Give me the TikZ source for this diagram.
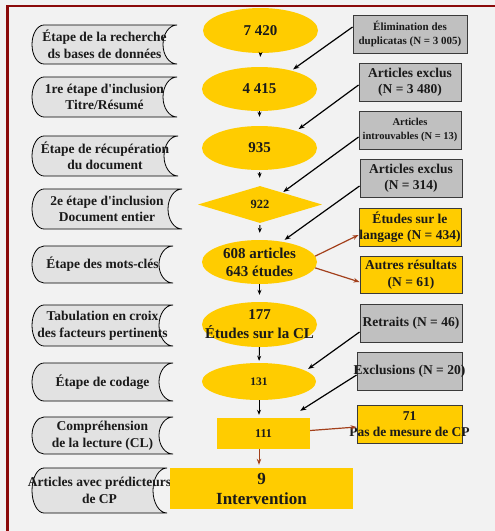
\documentclass[tikz,border=0pt]{standalone}
\usepackage{fontspec}
\setmainfont{Liberation Serif}
\usetikzlibrary{shapes.geometric,arrows.meta,calc}
\definecolor{bg}{HTML}{F2F2F2}
\definecolor{framered}{HTML}{8B0A0A}
\definecolor{gold}{HTML}{FFCC00}
\definecolor{boxgray}{HTML}{C0C0C0}
\definecolor{boxline}{HTML}{3A3A3A}
\definecolor{tapegray}{HTML}{E2E2E2}
\definecolor{rust}{HTML}{A3401C}
\definecolor{ink}{HTML}{1A1A1A}
\newcommand{\tapeshape}[6]{% name, x0, yc, x1, half height, text
  \draw[tapestyle] (#2+12,#3-#5) -- (#4,#3-#5)
    arc[start angle=90,end angle=270,x radius=14pt,y radius=#5pt]
    -- (#2+12,#3+#5)
    arc[start angle=270,end angle=90,x radius=12pt,y radius=#5pt] -- cycle;
  \node[lefttext] (#1) at ({(#2+#4)/2},#3) {#6};
}
\begin{document}
\begin{tikzpicture}[x=1pt,y=-1pt,
  tapestyle/.style={draw=black, line width=0.8pt, fill=tapegray},
  lefttext/.style={font=\bfseries\fontsize{13.5}{16.5}\selectfont, align=center, text=ink, inner sep=0pt},
  midtext/.style={font=\bfseries\fontsize{15}{18}\selectfont, align=center, text=ink, inner sep=0pt},
  ell/.style={ellipse, fill=gold, minimum width=115pt, minimum height=44pt, inner sep=0pt},
  yrect/.style={rectangle, fill=gold, inner sep=0pt},
  gbox/.style={rectangle, fill=boxgray, draw=boxline, line width=0.9pt, minimum width=102pt, minimum height=38pt, inner sep=0pt},
  ybox/.style={gbox, fill=gold},
  boxtext/.style={font=\bfseries\fontsize{13.5}{16.5}\selectfont, align=center, text=ink, inner sep=0pt},
  smalltext/.style={font=\bfseries\fontsize{11}{14}\selectfont, align=center, text=ink, inner sep=0pt},
  blk/.style={draw=black, line width=1.2pt, -{Stealth[length=6pt,width=4.5pt]}},
  vblk/.style={draw=black, line width=1pt, -{Stealth[length=5pt,width=4pt]}},
  brn/.style={draw=rust, line width=1.2pt, -{Stealth[length=6pt,width=4.5pt]}}
]
\fill[bg] (0,0) rectangle (495,531);
\useasboundingbox (0,0) rectangle (495,531);
\draw[framered, line width=2.4pt] (7.5,531) -- (7.5,6) -- (495,6);

% left column
\tapeshape{l1}{32}{44.5}{177}{19.5}{Étape de la recherche\\ds bases de données}
\tapeshape{l2}{32}{97}{177}{20}{1re étape d\textquotesingle inclusion\\Titre/Résumé}
\tapeshape{l3}{32}{156}{178}{20}{Étape de récupération\\du document}
\tapeshape{l4}{32}{209}{182}{20}{2e étape d\textquotesingle inclusion\\Document entier}
\tapeshape{l5}{32}{264.5}{173}{18.5}{Étape des mots-clés}
\tapeshape{l6}{32}{325.5}{173}{20.5}{Tabulation en croix\\des facteurs pertinents}
\tapeshape{l7}{32}{382}{173}{19}{Étape de codage}
\tapeshape{l8}{32}{435.5}{173}{18.5}{Compréhension\\de la lecture (CL)}
\tapeshape{l9}{32}{490.5}{167}{22.5}{Articles avec prédicteurs\\de CP}

% middle column shapes
\node[ell, minimum height=45pt] (e1) at (260.5,30.5) {};
\node[ell] (e2) at (259.5,89) {};
\node[ell] (e3) at (259.5,148) {};
\node[diamond, fill=gold, minimum width=124pt, minimum height=37pt, inner sep=0pt] (d) at (260,204.5) {};
\node[ell] (e5) at (259.5,262) {};
\node[ell, minimum height=45pt] (e6) at (259.5,324.5) {};
\node[ell, minimum width=114pt, minimum height=37pt] (e7) at (259,381.5) {};
\node[yrect, minimum width=93pt, minimum height=31pt] (r111) at (263.5,433.5) {};
\node[yrect, minimum width=183pt, minimum height=41pt] (r9) at (261.5,488.5) {};

\node[midtext] (t1) at (e1) {7 420};
\node[midtext] (t2) at (e2) {4 415};
\node[midtext] (t3) at (e3) {935};
\node[midtext, font=\bfseries\fontsize{12.5}{15}\selectfont] (t4) at (d) {922};
\node[midtext] (t5) at (e5) {608 articles\\643 études};
\node[midtext, font=\bfseries\fontsize{15}{19}\selectfont] (t6) at (e6) {177\\Études sur la CL};
\node[midtext, font=\bfseries\fontsize{11.5}{14}\selectfont] (t7) at (e7) {131};
\node[midtext, font=\bfseries\fontsize{12}{14}\selectfont] (t8) at (r111) {111};
\node[midtext, font=\bfseries\fontsize{17}{20}\selectfont] (t9) at (r9) {9\\Intervention};

% right column boxes
\node[gbox, minimum width=114pt] (b1) at (410,34) {};
\node[gbox] (b2) at (410,82) {};
\node[gbox] (b3) at (410,130) {};
\node[gbox] (b4) at (411,178) {};
\node[ybox] (b5) at (410,227) {};
\node[ybox, minimum height=37pt] (b6) at (411,274.5) {};
\node[gbox] (b7) at (411,323) {};
\node[gbox, minimum width=105pt] (b8) at (409.5,371) {};
\node[ybox, minimum width=105pt] (b9) at (409.5,424) {};

\node[smalltext] (s1) at (b1) {Élimination des\\duplicatas (N = 3 005)};
\node[boxtext] (s2) at (b2) {Articles exclus\\(N = 3 480)};
\node[smalltext, font=\bfseries\fontsize{10.5}{13.5}\selectfont] (s3) at (b3) {Articles\\introuvables (N = 13)};
\node[boxtext] (s4) at (b4) {Articles exclus\\(N = 314)};
\node[boxtext] (s5) at (b5) {Études sur le\\langage (N = 434)};
\node[boxtext] (s6) at (b6) {Autres résultats\\(N = 61)};
\node[boxtext] (s7) at (b7) {Retraits (N = 46)};
\node[boxtext] (s8) at (b8) {Exclusions (N = 20)};
\node[boxtext] (s9) at (b9) {71\\Pas de mesure de CP};

% vertical arrows
\draw[vblk, shorten >=10pt] (e1.south) -- (e2.north);
\draw[vblk, shorten >=9pt] (e2.south) -- (e3.north);
\draw[vblk, shorten <=2pt, shorten >=8pt] (e3.south) -- (d.north);
\draw[vblk, shorten <=2pt, shorten >=7pt] (d.south) -- (e5.north);
\draw[vblk, shorten >=7pt] (e5.south) -- (e6.north);
\draw[vblk, shorten >=2pt] (e6.south) -- (e7.north);
\draw[vblk, shorten >=3pt] (e7.south) -- (r111.north -| e7);
\draw[brn, line width=1pt, shorten >=3pt] (r111.south -| e7) -- (r9.north -| e7);

% diagonal arrows from boxes
\draw[blk, shorten >=2pt] ($(b1.west)+(0,-7)$) -- (e2.30);
\draw[blk, shorten >=3pt] ($(b2.west)+(0,3)$) -- (e3.25);
\draw[blk, shorten >=1pt] ($(b3.west)+(0,7)$) -- (d.28);
\draw[blk, shorten >=3pt] ($(b4.west)+(0,8)$) -- (e5.42);
\draw[blk, shorten >=3pt] ($(b7.west)+(0,9)$) -- (e7.13);
\draw[blk] ($(b8.west)+(0,4)$) -- ($(r111.north east)+(-10,-7)$);

% brown arrows
\draw[brn] (e5.6) -- ($(b5.west)+(0,8)$);
\draw[brn] (e5.-6) -- ($(b6.west)+(0,7.5)$);
\draw[brn] ($(r111.east)+(0,-3)$) -- ($(b9.west)+(0,3)$);
\end{tikzpicture}
\end{document}
